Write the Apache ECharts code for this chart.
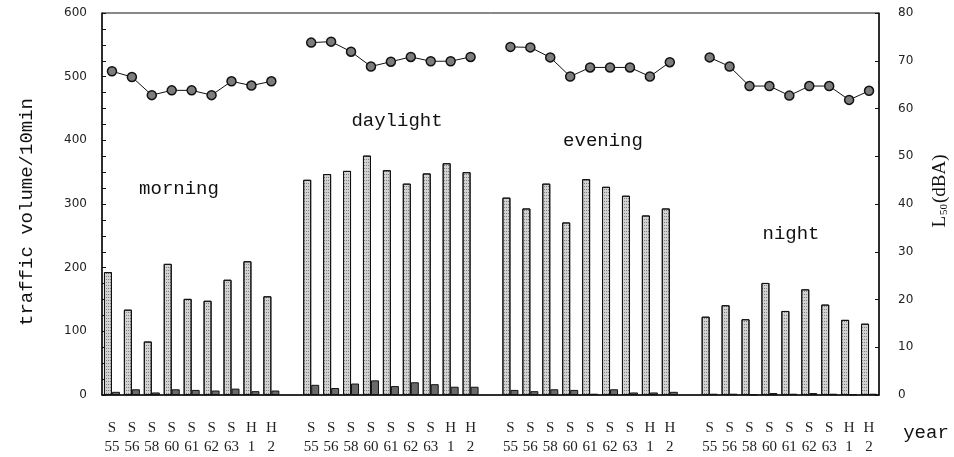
<!DOCTYPE html>
<html>
<head>
<meta charset="utf-8">
<script src="https://cdn.jsdelivr.net/npm/echarts@6/dist/echarts.min.js"></script>
<style>html,body{margin:0;padding:0;background:#fff}#c{width:954px;height:457px}</style>
</head>
<body>
<div id="c"></div>
<script>
// ---- data ----
const years = ['S\n55','S\n56','S\n58','S\n60','S\n61','S\n62','S\n63','H\n1','H\n2'];
const groupNames = ['morning','daylight','evening','night'];
const leftTicks = [0,100,200,300,400,500,600];
const rightTicks = [0,10,20,30,40,50,60,70,80];

const volMorning  = [193, 134, 84, 206, 151, 148, 181, 210, 155];
const volDaylight = [338, 347, 352, 376, 353, 332, 348, 364, 350];
const volEvening  = [310, 293, 332, 271, 339, 327, 313, 282, 293];
const volNight    = [123, 141, 119, 176, 132, 166, 142, 118, 112];

const heavyMorning  = [5, 9, 4, 9, 8, 7, 10, 6, 7];
const heavyDaylight = [16, 11, 18, 23, 14, 20, 17, 13, 13];
const heavyEvening  = [8, 6, 9, 8, 2, 9, 4, 4, 5];
const heavyNight    = [2, 2, 1, 3, 2, 3, 2, 1, 2];

const l50Morning  = [67.8, 66.6, 62.8, 63.8, 63.8, 62.8, 65.7, 64.8, 65.7];
const l50Daylight = [73.8, 74.0, 71.9, 68.8, 69.8, 70.8, 69.9, 69.9, 70.8];
const l50Evening  = [72.9, 72.8, 70.7, 66.7, 68.6, 68.6, 68.6, 66.7, 69.7];
const l50Night    = [70.7, 68.8, 64.7, 64.7, 62.7, 64.7, 64.7, 61.8, 63.7];

// ---- build combined arrays with an empty slot between groups ----
function join(groups, spacer) {
  const out = [];
  groups.forEach((g, i) => { out.push(...g); if (i < groups.length - 1) out.push(spacer); });
  return out;
}
const categories = join([years, years, years, years], '');
const vol   = join([volMorning, volDaylight, volEvening, volNight], null);
const heavy = join([heavyMorning, heavyDaylight, heavyEvening, heavyNight], null);
const l50   = join([l50Morning, l50Daylight, l50Evening, l50Night], null);

const mono = 'Liberation Mono';
const chart = echarts.init(document.getElementById('c'), null, {renderer: 'canvas'});
chart.setOption({
  animation: false,
  backgroundColor: '#fff',
  grid: {left: 102, right: 75, top: 13, bottom: 62, show: true, borderColor: '#111', borderWidth: 1, backgroundColor: 'transparent'},
  xAxis: {
    type: 'category', data: categories, boundaryGap: true,
    axisLine: {lineStyle: {color: '#111', width: 1.5}},
    axisTick: {show: false},
    axisLabel: {interval: 0, margin: 24, lineHeight: 19, fontFamily: 'Liberation Serif', fontSize: 15, color: '#222'}
  },
  yAxis: [{
    type: 'value', min: 0, max: 600, interval: 100,
    axisLine: {show: true, lineStyle: {color: '#111', width: 1.5}},
    axisTick: {show: true, inside: true, length: 4, lineStyle: {color: '#111'}},
    minorTick: {show: true, splitNumber: 4, length: 4, lineStyle: {color: '#111'}},
    splitLine: {show: false},
    axisLabel: {margin: 15, fontFamily: 'DejaVu Sans', fontSize: 12, color: '#222',
      formatter: v => leftTicks.includes(v) ? String(v) : ''}
  }, {
    type: 'value', min: 0, max: 80, interval: 10, position: 'right',
    axisLine: {show: true, lineStyle: {color: '#111', width: 1.5}},
    axisTick: {show: true, inside: true, length: 4, lineStyle: {color: '#111'}},
    splitLine: {show: false},
    axisLabel: {margin: 19, fontFamily: 'DejaVu Sans', fontSize: 12, color: '#222',
      formatter: v => rightTicks.includes(v) ? String(v) : ''}
  }],
  series: [{
    type: 'bar', yAxisIndex: 0, data: vol, barWidth: 8, barGap: '0%',
    itemStyle: {color: '#d2d2d2', borderColor: '#111', borderWidth: 1,
      decal: {symbol: 'rect', symbolSize: 1, dashArrayX: [1, 1], dashArrayY: [1, 2], color: 'rgba(60,60,60,0.55)', rotation: 0}}
  }, {
    type: 'bar', yAxisIndex: 0, data: heavy, barWidth: 8,
    itemStyle: {color: '#6a6a6a', borderColor: '#111', borderWidth: 1}
  }, {
    type: 'line', yAxisIndex: 1, data: l50, connectNulls: false,
    symbol: 'circle', symbolSize: 9,
    lineStyle: {color: '#111', width: 1},
    itemStyle: {color: '#7d7d7d', borderColor: '#111', borderWidth: 1.5}
  }],
  graphic: [
    {type: 'text', x: 179, y: 189, style: {text: groupNames[0], font: '19px ' + mono, fill: '#111', textAlign: 'center', textVerticalAlign: 'middle'}},
    {type: 'text', x: 397, y: 121, style: {text: groupNames[1], font: '19px ' + mono, fill: '#111', textAlign: 'center', textVerticalAlign: 'middle'}},
    {type: 'text', x: 603, y: 141, style: {text: groupNames[2], font: '19px ' + mono, fill: '#111', textAlign: 'center', textVerticalAlign: 'middle'}},
    {type: 'text', x: 791, y: 234, style: {text: groupNames[3], font: '19px ' + mono, fill: '#111', textAlign: 'center', textVerticalAlign: 'middle'}},
    {type: 'text', x: 27, y: 212, rotation: Math.PI / 2, style: {text: 'traffic volume/10min', font: '19px ' + mono, fill: '#111', textAlign: 'center', textVerticalAlign: 'middle'}},
    {type: 'text', x: 940, y: 191, rotation: Math.PI / 2, style: {
      text: 'L{sub|50}(dBA)', font: '19px Liberation Serif', fill: '#111', textAlign: 'center', textVerticalAlign: 'middle',
      rich: {sub: {font: '11px Liberation Serif', fill: '#111', verticalAlign: 'bottom', padding: [6, 1, 0, 1]}}}},
    {type: 'text', x: 926, y: 433, style: {text: 'year', font: '19px ' + mono, fill: '#111', textAlign: 'center', textVerticalAlign: 'middle'}}
  ]
});
</script>
</body>
</html>
